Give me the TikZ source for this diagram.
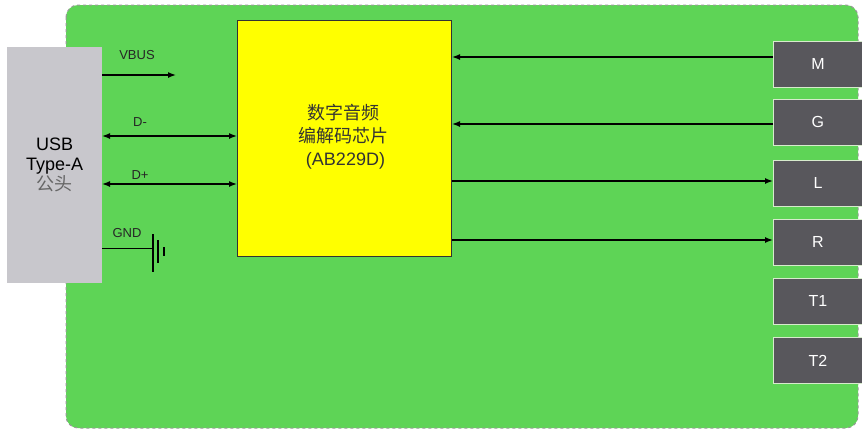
\documentclass[tikz,border=0pt]{standalone}
\usepackage{fontspec}
\setmainfont{Liberation Sans}
\newfontfamily\cjk{Noto Sans CJK SC}
\usetikzlibrary{arrows.meta}
\definecolor{bggreen}{RGB}{94,212,86}
\definecolor{usbgray}{RGB}{200,199,204}
\definecolor{chipyellow}{RGB}{255,255,0}
\definecolor{pingray}{RGB}{88,87,92}
\definecolor{pinedge}{RGB}{215,235,205}
\tikzset{
  every picture/.style={x=1pt,y=-1pt},
  pin/.style={draw=pinedge,line width=0.9pt,fill=pingray,minimum width=89pt,minimum height=46pt,anchor=north west,inner sep=0pt,text=white,font=\fontsize{16}{16}\selectfont},
  sig/.style={line width=1.4pt,-{Latex[length=8pt,width=6pt]}},
  bisig/.style={line width=1.4pt,{Latex[length=8pt,width=6pt]}-{Latex[length=8pt,width=6pt]}},
  lbl/.style={font=\fontsize{13}{13}\selectfont,text=black!85}
}
\begin{document}
\begin{tikzpicture}
\useasboundingbox (0,0) rectangle (862,432);
\fill[white] (0,0) rectangle (862,432);
% board
\draw[fill=bggreen,draw=gray!80,dashed,line width=1pt,rounded corners=12pt] (66,5) rectangle (858,428);
% USB connector
\node[fill=usbgray,minimum width=95pt,minimum height=236pt,inner sep=0pt,anchor=north west,align=center,font=\fontsize{18}{20}\selectfont] (usb) at (7,47) {USB\\Type-A\\{\cjk\color{black!60}公头}};
% chip
\node[draw=black!80,line width=1pt,fill=chipyellow,minimum width=214pt,minimum height=236pt,inner sep=0pt,anchor=north west] (chip) at (237,20) {};
\node[align=center,font=\fontsize{18}{23}\selectfont,text=black!80] (chiptext) at (343,137) {{\cjk 数字音频}\\{\cjk 编解码芯片}\\\ (AB229D)};
% pins
\node[pin] (M) at (773,41) {M};
\node[pin] (G) at (773,99) {G};
\node[pin] (L) at (773,160) {L};
\node[pin] (R) at (773,219) {R};
\node[pin] (T1) at (773,278) {T1};
\node[pin] (T2) at (773,337) {T2};
% USB signals
\coordinate (vbusA) at (102,75);
\coordinate (vbusB) at (176,75);
\draw[sig] (vbusA) -- (vbusB);
\node[lbl] (vbuslbl) at (137,55) {VBUS};
\draw[bisig] (102,136) -- (237,136);
\node[lbl] (dmlbl) at (140,122) {D-};
\draw[bisig] (102,184) -- (237,184);
\node[lbl] (dplbl) at (140,175) {D+};
% GND
\coordinate (gndA) at (102,248);
\coordinate (gndB) at (153,248);
\draw[line width=1pt] (gndA) -- (gndB);
\draw[line width=1.1pt] (153,234) -- (153,272);
\draw[line width=1.1pt] (158,240) -- (158,263);
\draw[line width=1.1pt] (164,247) -- (164,256);
\node[lbl] (gndlbl) at (127,233) {GND};
% chip-pin signals
\draw[sig] (M.west |- 0,57) -- (chip.east |- 0,57);
\draw[sig] (G.west |- 0,124) -- (chip.east |- 0,124);
\draw[sig] (chip.east |- 0,181) -- (L.west |- 0,181);
\draw[sig] (chip.east |- 0,240) -- (R.west |- 0,240);
\end{tikzpicture}
\end{document}
